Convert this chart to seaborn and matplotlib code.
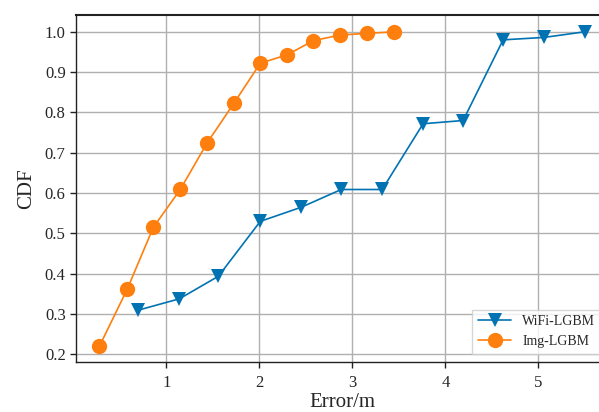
import numpy as np
import pandas as pd
import seaborn as sns
import matplotlib.pyplot as plt

# values
wifi_err = [0.70, 1.14, 1.56, 2.01, 2.45, 2.88, 3.32, 3.76, 4.19, 4.62, 5.06, 5.50]
wifi_cdf = [0.310, 0.338, 0.394, 0.530, 0.565, 0.609, 0.609, 0.772, 0.780, 0.980, 0.986, 1.000]
img_err = [0.28, 0.58, 0.86, 1.15, 1.44, 1.73, 2.01, 2.30, 2.58, 2.87, 3.16, 3.45]
img_cdf = [0.220, 0.362, 0.515, 0.609, 0.725, 0.824, 0.922, 0.943, 0.978, 0.992, 0.996, 1.000]

df = pd.concat([
    pd.DataFrame({"err": wifi_err, "cdf": wifi_cdf, "model": "WiFi-LGBM"}),
    pd.DataFrame({"err": img_err, "cdf": img_cdf, "model": "Img-LGBM"}),
], ignore_index=True)

sns.set_style("whitegrid")
plt.rcParams["font.family"] = ["Liberation Serif", "DejaVu Serif"]

fig = plt.figure(figsize=(5.99, 4.12), dpi=100)
ax = fig.add_axes([0.127, 0.121, 0.89, 0.843])

colors = {"WiFi-LGBM": "#0173b2", "Img-LGBM": "#ff7f0e"}
markers = {"WiFi-LGBM": "v", "Img-LGBM": "o"}
sizes = {"WiFi-LGBM": 10, "Img-LGBM": 11}
for name in ["WiFi-LGBM", "Img-LGBM"]:
    sub = df[df["model"] == name]
    sns.lineplot(x="err", y="cdf", data=sub, ax=ax, color=colors[name],
                 marker=markers[name], markersize=sizes[name], markeredgewidth=0,
                 linewidth=1.2, label=name, sort=False)

ax.set_xlim(0.03, 5.76)
ax.set_ylim(0.181, 1.042)
ax.set_xticks([1, 2, 3, 4, 5])
ax.set_yticks(np.arange(0.2, 1.01, 0.1))
ax.set_yticklabels([f"{v:.1f}" for v in np.arange(0.2, 1.01, 0.1)])
ax.grid(True, color="#b0b0b0", linewidth=1.0)
for side in ["left", "bottom", "top"]:
    ax.spines[side].set_color("#222222")
    ax.spines[side].set_linewidth(1.0)
ax.spines["top"].set_linewidth(1.5)
ax.tick_params(axis="both", direction="out", length=4, width=1, color="#222222",
               labelsize=12, left=True, bottom=True)
ax.tick_params(axis="x", pad=5)

ax.set_xlabel("Error/m", fontsize=15, labelpad=2)
ax.set_ylabel("CDF", fontsize=15, labelpad=6)

leg = ax.legend(loc="lower right", fontsize=10, frameon=True, fancybox=False,
                borderaxespad=0.6, handlelength=2.4)
leg.get_frame().set_edgecolor("#cccccc")

plt.savefig("out.png", dpi=100)
